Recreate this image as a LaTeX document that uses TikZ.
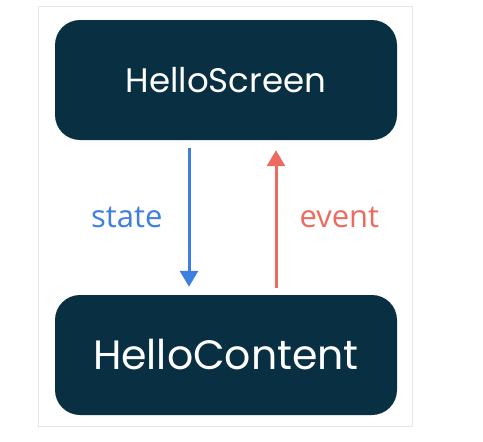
\documentclass[tikz,border=0pt]{standalone}
\usepackage{fontspec}
\setmainfont{Poppins}
\newfontfamily\labelfont{Open Sans}
\usetikzlibrary{arrows.meta}

\definecolor{boxnavy}{HTML}{082F42}
\definecolor{stateblue}{HTML}{3C7FE0}
\definecolor{eventred}{HTML}{EC6B5E}
\definecolor{framegray}{HTML}{E6E6E6}

\tikzset{
	box/.style={fill=boxnavy, text=white, rounded corners=25pt,
		minimum width=342pt, minimum height=120pt, inner sep=0pt},
	flow/.style={line width=3pt, -{Triangle[width=18pt,length=16pt]}},
	flowlabel/.style={font=\labelfont\fontsize{31}{34}\selectfont, inner sep=0pt}
}

\begin{document}
\begin{tikzpicture}[x=1pt, y=-1pt]
		\useasboundingbox (0,0) rectangle (483,442);
		\draw[framegray, line width=1pt] (38.5,6) rectangle (412.5,426);

		\node[box, font=\fontsize{34}{38}\selectfont] (screen) at (226,80) {HelloScreen};
		\node[box, font=\fontsize{41}{45}\selectfont] (content) at (226,355) {HelloContent};

		\coordinate (s) at (189,0);
		\coordinate (e) at (276,0);

		\draw[flow, stateblue, shorten <=8pt, shorten >=8pt] (screen.south -| s) -- (content.north -| s)
			node[flowlabel, left=25pt, midway] {state};
		\draw[flow, eventred, shorten <=7pt, shorten >=10pt] (content.north -| e) -- (screen.south -| e)
			node[flowlabel, right=22pt, midway] {event};
	\end{tikzpicture}
\end{document}
